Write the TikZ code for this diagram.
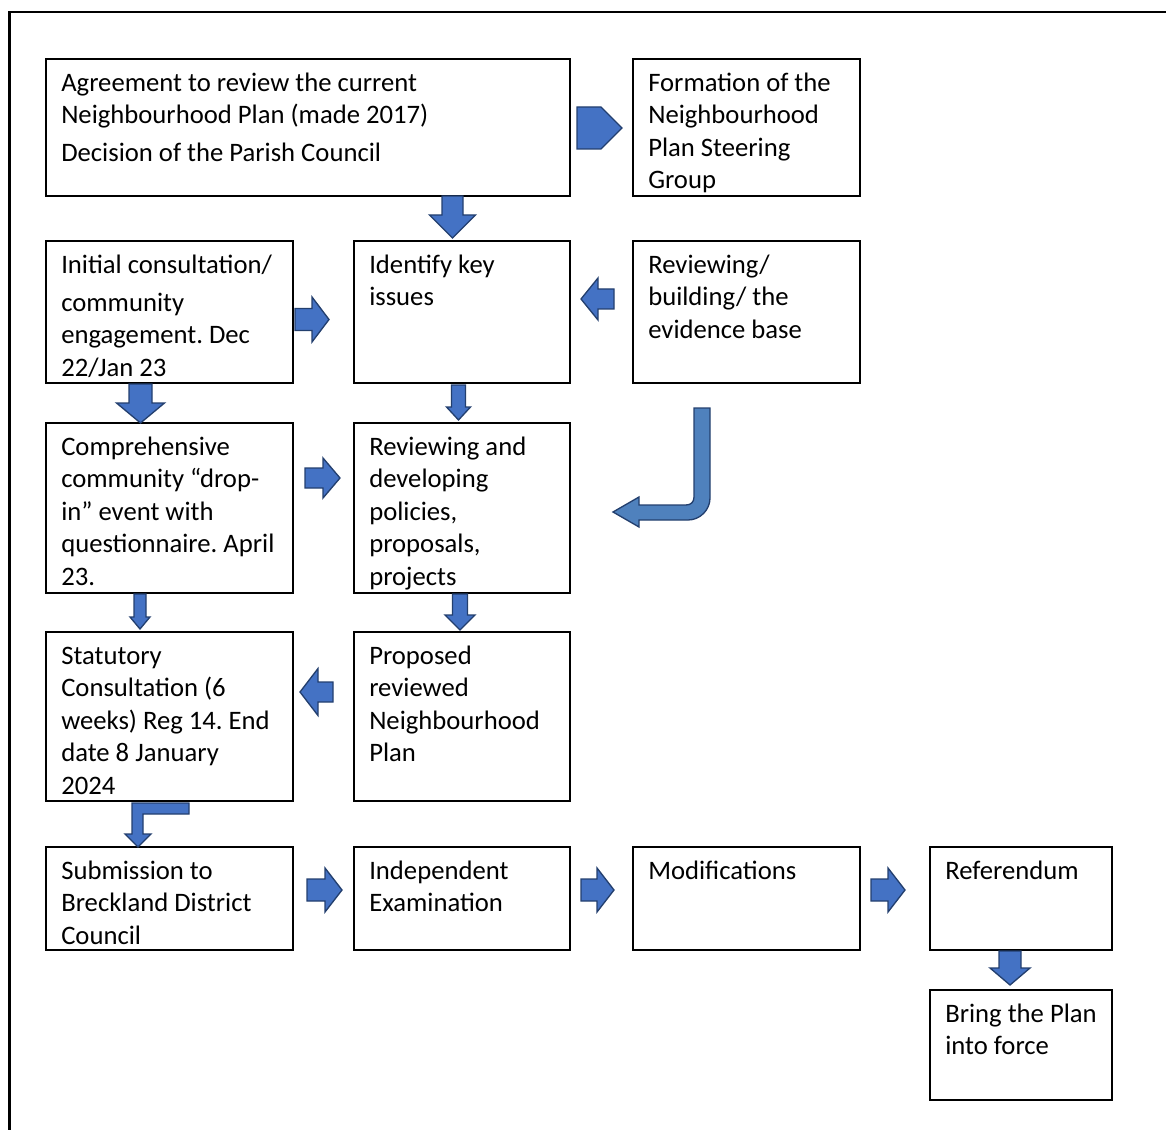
\documentclass[tikz,border=0pt]{standalone}
\usepackage{fontspec}
\setmainfont{Carlito}
\frenchspacing
\definecolor{afill}{HTML}{4472C4}
\definecolor{adraw}{HTML}{233F6E}
\definecolor{bfill}{HTML}{4F81BD}
\definecolor{bdraw}{HTML}{233F6E}
\tikzset{
  frameline/.style={draw=black, line width=1.6pt},
  box/.style={draw=black, line width=1.5pt, inner sep=0pt, anchor=north west},
  boxsize/.style n args={2}{minimum width=#1*0.75pt, minimum height=#2*0.75pt},
  txt/.style={anchor=north west, inner sep=0pt, align=left, font=\fontsize{20}{24.4}\selectfont\frenchspacing},
  blk/.style={fill=afill, draw=adraw, line width=1pt, line join=miter},
  bentblk/.style={fill=bfill, draw=bdraw, line width=1pt, line join=miter}
}
% right arrow: x0, x1(tip), c, s, h, L
\newcommand\blkright[6]{\filldraw[blk] (#1,#3-#4) -- (#2-#6,#3-#4) -- (#2-#6,#3-#5) -- (#2,#3) -- (#2-#6,#3+#5) -- (#2-#6,#3+#4) -- (#1,#3+#4) -- cycle;}
% left arrow: x0(tip), x1, c, s, h, L
\newcommand\blkleft[6]{\filldraw[blk] (#2,#3-#4) -- (#1+#6,#3-#4) -- (#1+#6,#3-#5) -- (#1,#3) -- (#1+#6,#3+#5) -- (#1+#6,#3+#4) -- (#2,#3+#4) -- cycle;}
% down arrow: c, y0, y1(tip), s, h, L
\newcommand\blkdown[6]{\filldraw[blk] (#1-#4,#2) -- (#1-#4,#3-#6) -- (#1-#5,#3-#6) -- (#1,#3) -- (#1+#5,#3-#6) -- (#1+#4,#3-#6) -- (#1+#4,#2) -- cycle;}
\begin{document}
\begin{tikzpicture}[x=0.75pt, y=-0.75pt]
\useasboundingbox (0,0) rectangle (1166,1130);
% outer frame
\draw[frameline] (9.5,1131) -- (9.5,12) -- (1167,12);

% boxes
\node[box, boxsize={524}{137}] (n1) at (45,58) {};
\node[box, boxsize={227}{137}] (n2) at (632,58) {};
\node[box, boxsize={247}{142}] (n3) at (45,240) {};
\node[box, boxsize={216}{142}] (n4) at (353,240) {};
\node[box, boxsize={227}{142}] (n5) at (632,240) {};
\node[box, boxsize={247}{170}] (n6) at (45,422) {};
\node[box, boxsize={216}{170}] (n7) at (353,422) {};
\node[box, boxsize={247}{169}] (n8) at (45,631) {};
\node[box, boxsize={216}{169}] (n9) at (353,631) {};
\node[box, boxsize={247}{103}] (n10) at (45,846) {};
\node[box, boxsize={216}{103}] (n11) at (353,846) {};
\node[box, boxsize={227}{103}] (n12) at (632,846) {};
\node[box, boxsize={182}{103}] (n13) at (929,846) {};
\node[box, boxsize={182}{110}] (n14) at (929,989) {};

% texts
\node[txt] (t1) at ([shift={(16,10.2)}]n1.north west) {\strut Agreement to review the current\\ Neighbourhood Plan (made 2017)\\[4pt] Decision of the Parish Council};
\node[txt] (t2) at ([shift={(16,10.2)}]n2.north west) {\strut Formation of the\\ Neighbourhood\\ Plan Steering\\ Group};
\node[txt] (t3) at ([shift={(16,10.2)}]n3.north west) {\strut Initial consultation/\\[4pt] community\\ engagement. Dec\\ 22/Jan 23};
\node[txt] (t4) at ([shift={(16,10.2)}]n4.north west) {\strut Identify key\\ issues};
\node[txt] (t5) at ([shift={(16,10.2)}]n5.north west) {\strut Reviewing/\\ building/ the\\ evidence base};
\node[txt] (t6) at ([shift={(16,10.2)}]n6.north west) {\strut Comprehensive\\ community “drop-\\ in” event with\\ questionnaire. April\\ 23.};
\node[txt] (t7) at ([shift={(16,10.2)}]n7.north west) {\strut Reviewing and\\ developing\\ policies,\\ proposals,\\ projects};
\node[txt] (t8) at ([shift={(16,10.2)}]n8.north west) {\strut Statutory\\ Consultation (6\\ weeks) Reg 14. End\\ date 8 January\\ 2024};
\node[txt] (t9) at ([shift={(16,10.2)}]n9.north west) {\strut Proposed\\ reviewed\\ Neighbourhood\\ Plan};
\node[txt] (t10) at ([shift={(16,10.2)}]n10.north west) {\strut Submission to\\ Breckland District\\ Council};
\node[txt] (t11) at ([shift={(16,10.2)}]n11.north west) {\strut Independent\\ Examination};
\node[txt] (t12) at ([shift={(16,10.2)}]n12.north west) {\strut Modifications};
\node[txt] (t13) at ([shift={(16,10.2)}]n13.north west) {\strut Referendum};
\node[txt] (t14) at ([shift={(16,10.2)}]n14.north west) {\strut Bring the Plan\\ into force};

% block arrows
\filldraw[blk] (577,107) -- (601,107) -- (622,128) -- (601,149) -- (577,149) -- cycle;
\blkdown{452.5}{196}{238}{10.5}{23}{23}
\blkright{295}{329}{319.5}{11}{22.5}{17}
\blkleft{581}{614}{299}{10}{21}{17}
\blkdown{140.5}{384}{423}{11.5}{24}{20}
\blkdown{458.5}{385}{420}{7}{12}{13}
\blkright{305}{340}{478}{10}{20}{17}
\blkdown{140}{594}{629}{6}{10}{12}
\blkdown{460}{594}{630}{7.5}{15}{15}
\blkleft{300}{333}{692}{10}{23.5}{18}
\blkright{307}{342}{890}{11}{22}{17}
\blkright{581}{614}{890}{11}{22}{17}
\blkright{871}{905}{890}{11}{22}{17}
\blkdown{1010}{951}{985}{11}{20}{17}
% bent arrow 8 -> 10
\filldraw[blk] (132,803) -- (189,803) -- (189,814) -- (143,814) -- (143,834) -- (151,834) -- (138,847) -- (125,834) -- (132,834) -- cycle;
% big bent arrow toward 7
\filldraw[bentblk] (694,408) -- (710,408) -- (710,498) .. controls (710,510) and (700,520) .. (688,520)
  -- (639,520) -- (639,527) -- (613,512) -- (639,497) -- (639,505) -- (686,505)
  .. controls (691,505) and (694,502) .. (694,497) -- cycle;
\end{tikzpicture}
\end{document}
